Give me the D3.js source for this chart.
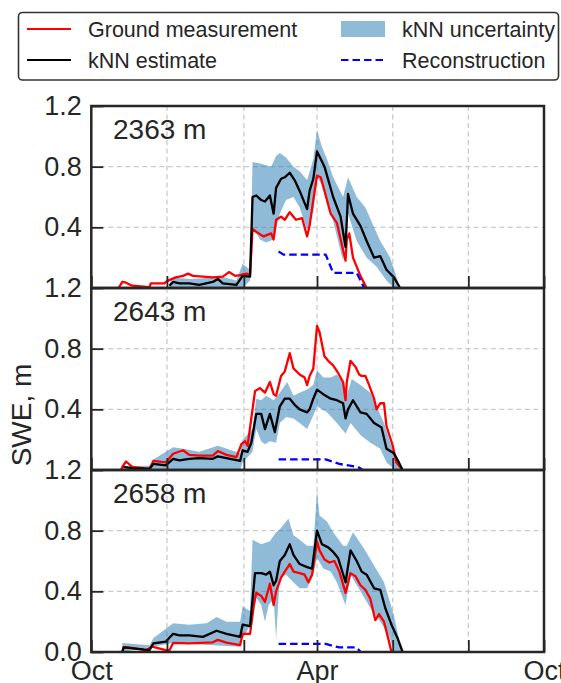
<!DOCTYPE html>
<html>
<head>
<meta charset="utf-8">
<script src="https://cdn.jsdelivr.net/npm/d3@7"></script>
<style>
  body { margin: 0; background: #fff; }
  svg { display: block; font-family: "Liberation Sans", Arial, sans-serif; }
</style>
</head>
<body>
<div id="chart"></div>
<script>
// values are [day of water year (from 1 Oct), SWE in m]
const stations = ["2363 m", "2643 m", "2658 m"];
const yTicks = [0.4, 0.8, 1.2];
const tickMonthLabels = {9: "Oct", 3: "Apr"};

const ground2363 = [[22,0],[25,0.04],[28,0.035],[33,0.015],[47,0.005],[48,0.03],[59,0.03],[61,0.045],[68,0.07],[74,0.08],[78,0.095],[82,0.08],[90,0.075],[98,0.07],[106,0.075],[111,0.105],[116,0.08],[120,0.085],[125,0.095],[128,0.09],[130,0.39],[133,0.37],[139,0.34],[145,0.36],[147,0.32],[149,0.45],[153,0.47],[156,0.45],[160,0.50],[165,0.45],[170,0.46],[174,0.34],[176,0.41],[179,0.58],[182,0.74],[185,0.73],[187,0.67],[193,0.49],[198,0.43],[203,0.25],[205,0.18],[206,0.32],[208,0.36],[211,0.20],[217,0.08],[222,0]];
const knn2363 = [[63,0.015],[66,0.04],[71,0.03],[79,0.03],[87,0.02],[98,0.04],[102,0.06],[106,0.03],[117,0.02],[122,0.08],[128,0.075],[130,0.60],[133,0.61],[137,0.58],[140,0.57],[144,0.61],[147,0.49],[149,0.66],[153,0.72],[156,0.73],[160,0.76],[164,0.71],[168,0.64],[174,0.52],[176,0.64],[179,0.72],[182,0.90],[185,0.85],[188,0.80],[195,0.60],[201,0.47],[205,0.27],[207,0.62],[211,0.49],[217,0.41],[222,0.31],[228,0.20],[233,0.21],[238,0.12],[244,0.07],[249,0]];
const upper2363 = [[63,0.03],[66,0.07],[80,0.06],[98,0.07],[102,0.08],[117,0.05],[122,0.16],[128,0.12],[130,0.83],[137,0.82],[145,0.80],[149,0.87],[152,0.89],[157,0.86],[163,0.80],[168,0.77],[174,0.71],[179,0.85],[182,1.04],[186,0.93],[190,0.85],[195,0.73],[203,0.60],[207,0.73],[214,0.60],[221,0.53],[228,0.40],[233,0.31],[241,0.20],[247,0.05],[249,0]];
const lower2363 = [[63,0],[122,0],[128,0.05],[130,0.40],[136,0.32],[141,0.30],[147,0.32],[152,0.49],[157,0.58],[163,0.60],[168,0.53],[174,0.38],[179,0.51],[182,0.73],[187,0.67],[195,0.44],[203,0.18],[207,0.49],[214,0.31],[222,0.20],[230,0.14],[238,0.05],[244,0]];
const recon2363 = [[151,0.24],[155,0.22],[189,0.22],[195,0.10],[214,0.10],[220,0]];

const ground2643 = [[24,0],[25,0.02],[28,0.056],[33,0.02],[47,0.008],[50,0.06],[60,0.05],[66,0.107],[74,0.13],[79,0.10],[87,0.095],[98,0.095],[102,0.125],[109,0.10],[117,0.085],[121,0.17],[124,0.19],[126,0.16],[129,0.34],[132,0.52],[136,0.54],[140,0.51],[144,0.58],[147,0.50],[149,0.49],[153,0.62],[156,0.65],[160,0.77],[163,0.67],[168,0.63],[172,0.61],[174,0.56],[176,0.62],[179,0.67],[182,0.95],[184,0.91],[188,0.75],[191,0.72],[195,0.69],[199,0.64],[203,0.58],[205,0.46],[206,0.58],[209,0.72],[213,0.68],[216,0.63],[218,0.62],[221,0.62],[224,0.56],[228,0.47],[230,0.40],[233,0.44],[236,0.44],[238,0.29],[243,0.16],[246,0.05],[251,0]];
const knn2643 = [[26,0.02],[33,0.012],[47,0.008],[50,0.04],[60,0.03],[66,0.074],[71,0.063],[79,0.074],[87,0.078],[98,0.074],[102,0.09],[109,0.078],[120,0.06],[122,0.13],[126,0.12],[129,0.18],[133,0.37],[137,0.37],[140,0.27],[144,0.37],[148,0.25],[152,0.42],[156,0.47],[160,0.47],[164,0.43],[168,0.40],[174,0.38],[176,0.40],[179,0.47],[182,0.53],[187,0.50],[193,0.47],[198,0.46],[203,0.44],[205,0.34],[207,0.40],[211,0.46],[217,0.38],[222,0.37],[228,0.31],[232,0.29],[234,0.28],[238,0.14],[244,0.11],[248,0.05],[251,0]];
const upper2643 = [[24,0.02],[49,0.03],[50,0.07],[66,0.15],[74,0.14],[87,0.12],[102,0.16],[120,0.11],[122,0.20],[130,0.27],[133,0.47],[137,0.46],[141,0.49],[147,0.46],[152,0.51],[158,0.58],[163,0.49],[168,0.51],[174,0.53],[179,0.56],[182,0.66],[187,0.61],[193,0.61],[198,0.63],[203,0.58],[206,0.49],[210,0.60],[217,0.56],[225,0.51],[230,0.42],[236,0.31],[241,0.18],[245,0.09],[250,0]];
const lower2643 = [[24,0],[120,0],[122,0.05],[130,0.12],[133,0.27],[137,0.19],[140,0.17],[144,0.19],[149,0.18],[152,0.31],[157,0.35],[163,0.34],[168,0.31],[174,0.27],[179,0.36],[182,0.42],[190,0.38],[198,0.31],[205,0.24],[209,0.31],[217,0.23],[225,0.18],[233,0.14],[238,0.05],[245,0]];
const recon2643 = [[151,0.07],[189,0.07],[200,0.04],[215,0.02],[219,0]];

const ground2658 = [[25,0],[26,0.03],[30,0.03],[44,0.013],[49,0.035],[60,0.013],[63,0.012],[66,0.06],[79,0.057],[98,0.064],[102,0.08],[109,0.062],[120,0.046],[122,0.12],[128,0.12],[131,0.31],[133,0.39],[137,0.37],[140,0.33],[144,0.45],[147,0.31],[149,0.40],[153,0.49],[156,0.53],[160,0.58],[163,0.53],[168,0.52],[172,0.51],[175,0.46],[178,0.51],[182,0.73],[184,0.67],[188,0.61],[192,0.59],[196,0.60],[200,0.53],[205,0.39],[209,0.52],[213,0.50],[217,0.44],[221,0.41],[225,0.35],[229,0.21],[232,0.25],[236,0.20],[240,0.07],[242,0]];
const knn2658 = [[25,0],[26,0.03],[47,0.013],[50,0.057],[60,0.068],[66,0.12],[71,0.11],[79,0.11],[90,0.10],[101,0.14],[109,0.12],[120,0.10],[122,0.18],[128,0.17],[132,0.52],[137,0.52],[141,0.51],[144,0.53],[147,0.44],[149,0.47],[152,0.60],[156,0.64],[160,0.71],[163,0.64],[168,0.58],[174,0.56],[178,0.55],[182,0.80],[186,0.71],[191,0.69],[195,0.66],[199,0.62],[205,0.46],[209,0.67],[214,0.60],[218,0.53],[222,0.51],[228,0.42],[233,0.41],[237,0.29],[242,0.18],[247,0.09],[251,0]];
const upper2658 = [[25,0.06],[47,0.045],[50,0.09],[66,0.19],[79,0.18],[93,0.19],[101,0.23],[109,0.20],[120,0.20],[122,0.30],[128,0.27],[130,0.74],[137,0.71],[144,0.73],[149,0.79],[152,0.81],[159,0.88],[163,0.77],[168,0.74],[174,0.70],[179,0.70],[182,1.06],[184,0.90],[190,0.86],[195,0.79],[203,0.70],[206,0.70],[211,0.79],[220,0.68],[228,0.57],[236,0.46],[244,0.24],[249,0.05],[250,0]];
const lower2658 = [[25,0],[66,0.06],[120,0.035],[122,0.09],[130,0.20],[133,0.36],[137,0.31],[140,0.20],[143,0.31],[147,0.35],[149,0.09],[152,0.49],[157,0.51],[163,0.46],[168,0.42],[174,0.42],[179,0.51],[182,0.62],[187,0.55],[193,0.53],[198,0.46],[205,0.31],[209,0.51],[217,0.40],[225,0.29],[233,0.20],[240,0.11],[244,0]];
const recon2658 = [[151,0.053],[189,0.053],[200,0.03],[214,0.03],[217,0]];

const panels = [
  {name: stations[0], ground: ground2363, knn: knn2363, upper: upper2363, lower: lower2363, recon: recon2363},
  {name: stations[1], ground: ground2643, knn: knn2643, upper: upper2643, lower: lower2643, recon: recon2643},
  {name: stations[2], ground: ground2658, knn: knn2658, upper: upper2658, lower: lower2658, recon: recon2658}
];

const width = 561, height = 683;
const margin = {top: 106, right: 17, bottom: 31, left: 91.3};
const panelH = (height - margin.top - margin.bottom) / panels.length;
const ink = "#262626";

const start = new Date(2016, 9, 1), end = new Date(2017, 9, 1);
const toDate = d => d3.timeDay.offset(start, d);

const x = d3.scaleTime().domain([start, end]).range([margin.left, width - margin.right]);
const xTicks = d3.timeMonth.range(start, d3.timeDay.offset(end, 1)).filter((d, i) => i % 2 === 0);

const svg = d3.select("#chart").append("svg")
    .attr("width", width)
    .attr("height", height);

panels.forEach((p, i) => {
    const top = margin.top + i * panelH;
    const y = d3.scaleLinear().domain([0, 1.2]).range([top + panelH, top]);
    const g = svg.append("g");

    g.append("clipPath").attr("id", "clip" + i)
        .append("rect")
        .attr("x", x.range()[0]).attr("y", top)
        .attr("width", x.range()[1] - x.range()[0]).attr("height", panelH);

    // grid
    g.append("g").selectAll("line")
        .data(xTicks.slice(1, -1)).enter().append("line")
        .attr("x1", d => x(d)).attr("x2", d => x(d))
        .attr("y1", top).attr("y2", top + panelH)
        .attr("stroke", "#cbcbcb").attr("stroke-width", 1.3).attr("stroke-dasharray", "5,3.5");
    g.append("g").selectAll("line")
        .data([0.4, 0.8]).enter().append("line")
        .attr("x1", x.range()[0]).attr("x2", x.range()[1])
        .attr("y1", d => y(d)).attr("y2", d => y(d))
        .attr("stroke", "#cbcbcb").attr("stroke-width", 1.3).attr("stroke-dasharray", "5,3.5");

    const line = d3.line().x(d => x(toDate(d[0]))).y(d => y(d[1]));
    const data = g.append("g").attr("clip-path", `url(#clip${i})`)
        .attr("stroke-linejoin", "round");

    // uncertainty band: upper edge forward, lower edge back
    data.append("path")
        .attr("d", line(p.upper.concat(p.lower.slice().reverse())) + "Z")
        .attr("fill", "#1f77b4").attr("fill-opacity", 0.5);

    data.append("path").attr("d", line(p.ground))
        .attr("fill", "none").attr("stroke", "#ff0000").attr("stroke-width", 2.3);
    data.append("path").attr("d", line(p.knn))
        .attr("fill", "none").attr("stroke", "#000").attr("stroke-width", 2.3);
    data.append("path").attr("d", line(p.recon))
        .attr("fill", "none").attr("stroke", "#0000ff").attr("stroke-width", 2.3)
        .attr("stroke-dasharray", "7.5,4");

    // axes, ticks pointing in
    const yAxis = g.append("g")
        .attr("transform", `translate(${x.range()[0]},0)`)
        .call(d3.axisLeft(y)
            .tickValues(i === panels.length - 1 ? [0].concat(yTicks) : yTicks)
            .tickSize(-12).tickPadding(9.5)
            .tickFormat(d3.format(".1f")));

    const last = i === panels.length - 1;
    const xAxis = g.append("g")
        .attr("transform", `translate(0,${top + panelH})`)
        .call(d3.axisBottom(x)
            .tickValues(xTicks)
            .tickSize(-12).tickPadding(8.5)
            .tickFormat(d => last ? (tickMonthLabels[d.getMonth()] || "") : ""));

    [yAxis, xAxis].forEach(a => {
        a.select(".domain").remove();
        a.selectAll(".tick line").attr("stroke", ink).attr("stroke-width", 1.8);
        a.selectAll(".tick text").attr("fill", ink).style("font-size", "27px")
            .style("font-family", '"Liberation Sans", Arial, sans-serif');
    });

    g.append("rect")
        .attr("x", x.range()[0]).attr("y", top)
        .attr("width", x.range()[1] - x.range()[0]).attr("height", panelH)
        .attr("fill", "none").attr("stroke", ink).attr("stroke-width", 2.5);

    g.append("text")
        .attr("x", 113).attr("y", top + 33)
        .attr("fill", ink).style("font-size", "28px")
        .text(p.name);
});

// y label
svg.append("text")
    .attr("transform", "translate(31,415) rotate(-90)")
    .attr("text-anchor", "middle")
    .attr("fill", ink).style("font-size", "28px")
    .text("SWE, m");

// legend
const legend = svg.append("g");
legend.append("rect")
    .attr("x", 18.5).attr("y", 12.5).attr("width", 540).attr("height", 67.5)
    .attr("rx", 4).attr("fill", "#fff").attr("stroke", "#333").attr("stroke-width", 1.6);

const legendItems = [
    {label: "Ground measurement", kind: "line", color: "#ff0000", col: 0, row: 0},
    {label: "kNN estimate", kind: "line", color: "#000", col: 0, row: 1},
    {label: "kNN uncertainty", kind: "patch", color: "#1f77b4", col: 1, row: 0},
    {label: "Reconstruction", kind: "dash", color: "#0000ff", col: 1, row: 1}
];
const colX = [27, 341], rowY = [29, 60];

legendItems.forEach(it => {
    const lx = colX[it.col], ly = rowY[it.row];
    if (it.kind === "patch") {
        legend.append("rect").attr("x", lx).attr("y", ly - 8).attr("width", 44).attr("height", 16)
            .attr("fill", it.color).attr("fill-opacity", 0.5);
    } else {
        legend.append("line").attr("x1", lx).attr("x2", lx + 44).attr("y1", ly).attr("y2", ly)
            .attr("stroke", it.color).attr("stroke-width", 2.2)
            .attr("stroke-dasharray", it.kind === "dash" ? "7.5,4" : null);
    }
    legend.append("text")
        .attr("x", lx + 61).attr("y", ly).attr("dy", "0.35em")
        .attr("fill", ink).style("font-size", "21.5px")
        .text(it.label);
});
</script>
</body>
</html>
